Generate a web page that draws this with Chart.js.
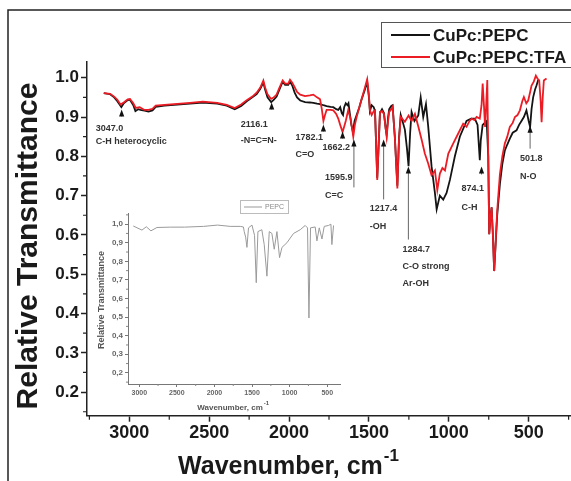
<!DOCTYPE html>
<html>
<head>
<meta charset="utf-8">
<script src="https://cdn.jsdelivr.net/npm/chart.js"></script>
<style>
  html, body { margin: 0; padding: 0; background: #fff; overflow: hidden; }
  #wrap { position: relative; width: 571px; height: 481px; }
  #mainChart { position: absolute; left: 0; top: 0; }
  #insetChart { position: absolute; left: 88px; top: 195px; }
</style>
</head>
<body>
<div id="wrap">
  <canvas id="mainChart" width="571" height="481"></canvas>
  <canvas id="insetChart" width="262" height="222"></canvas>
</div>
<script>
// 刻度
const xTicks = [3000, 2500, 2000, 1500, 1000, 500];
const yTicks = [0.2, 0.3, 0.4, 0.5, 0.6, 0.7, 0.8, 0.9, 1.0];

// 数据: CuPc:PEPC (黑)
const blackWave = [
  3160, 3120, 3095, 3075, 3050, 3035, 3010, 2996, 2975, 2962,
  2945, 2930, 2905, 2880, 2855, 2835, 2780, 2720, 2620, 2540,
  2450, 2390, 2340, 2300, 2265, 2230, 2203, 2180, 2161, 2150,
  2135, 2112, 2095, 2078, 2060, 2040, 2025, 2005, 1994, 1980,
  1965, 1950, 1930, 1900, 1870, 1848, 1825, 1806, 1785, 1765,
  1740, 1723, 1705, 1692, 1680, 1670, 1662, 1655, 1645, 1635,
  1628, 1620, 1610, 1600, 1590, 1577, 1560, 1546, 1525, 1511,
  1500, 1494, 1483, 1470, 1462, 1455, 1448, 1440, 1431, 1418,
  1406, 1395, 1389, 1380, 1373, 1360, 1352, 1338, 1322, 1312,
  1301, 1290, 1275, 1262, 1252, 1242, 1233, 1215, 1191, 1176,
  1160, 1143, 1129, 1108, 1087, 1076, 1056, 1035, 1014, 993,
  962, 931, 889, 860, 837, 820, 806, 800, 788, 763,
  753, 747, 740, 732, 724, 716, 707, 697, 680, 665,
  649, 634, 618, 600, 576, 560, 545, 530, 514, 500,
  491, 482, 472, 460, 451, 440
];
const blackT = [
  0.961, 0.958, 0.950, 0.940, 0.925, 0.935, 0.943, 0.944, 0.930, 0.915,
  0.920, 0.918, 0.916, 0.914, 0.917, 0.926, 0.929, 0.931, 0.934, 0.937,
  0.934, 0.929, 0.920, 0.928, 0.940, 0.950, 0.958, 0.972, 0.988, 0.970,
  0.950, 0.938, 0.944, 0.952, 0.970, 0.990, 0.982, 0.982, 0.990, 0.980,
  0.962, 0.950, 0.942, 0.938, 0.937, 0.936, 0.934, 0.933, 0.930, 0.928,
  0.926, 0.925, 0.920, 0.918, 0.925, 0.910, 0.905, 0.925, 0.935, 0.930,
  0.935, 0.910, 0.880, 0.862, 0.890, 0.905, 0.925, 0.945, 0.970, 0.990,
  0.950, 0.915, 0.930, 0.925, 0.915, 0.830, 0.745, 0.820, 0.910, 0.920,
  0.910, 0.870, 0.855, 0.900, 0.920, 0.928, 0.930, 0.850, 0.725, 0.845,
  0.905, 0.890, 0.868, 0.820, 0.775, 0.860, 0.913, 0.890, 0.904, 0.950,
  0.900, 0.933, 0.876, 0.775, 0.707, 0.665, 0.700, 0.690, 0.707, 0.740,
  0.800, 0.850, 0.890, 0.896, 0.896, 0.880, 0.790, 0.840, 0.880, 0.890,
  0.800, 0.602, 0.640, 0.670, 0.600, 0.508, 0.575, 0.650, 0.730, 0.780,
  0.815, 0.830, 0.845, 0.860, 0.866, 0.880, 0.890, 0.900, 0.917, 0.890,
  0.875, 0.920, 0.950, 0.970, 0.980, 0.995
];

// 数据: CuPc:PEPC:TFA (红)
const redWave = [
  3160, 3120, 3095, 3075, 3055, 3035, 3010, 2996, 2975, 2960,
  2935, 2905, 2880, 2855, 2835, 2780, 2720, 2620, 2540, 2450,
  2390, 2340, 2300, 2265, 2230, 2203, 2180, 2161, 2150, 2135,
  2112, 2095, 2078, 2060, 2040, 2025, 2005, 1994, 1980, 1965,
  1950, 1930, 1900, 1870, 1848, 1825, 1806, 1795, 1785, 1775,
  1765, 1740, 1723, 1705, 1692, 1680, 1665, 1652, 1644, 1630,
  1615, 1605, 1598, 1588, 1577, 1560, 1546, 1525, 1511, 1500,
  1494, 1483, 1470, 1462, 1455, 1448, 1440, 1431, 1418, 1406,
  1395, 1389, 1380, 1373, 1360, 1352, 1338, 1322, 1312, 1301,
  1290, 1275, 1252, 1233, 1212, 1191, 1170, 1150, 1129, 1108,
  1087, 1072, 1056, 1040, 1024, 1003, 972, 941, 910, 889,
  870, 857, 840, 826, 806, 795, 788, 780, 773, 766,
  759, 753, 747, 740, 732, 724, 716, 707, 697, 680,
  665, 649, 634, 618, 600, 586, 570, 555, 540, 530,
  515, 503, 490, 482, 468, 455, 445, 434, 425, 419,
  412, 405, 395, 388
];
const redT = [
  0.961, 0.959, 0.952, 0.944, 0.932, 0.937, 0.945, 0.946, 0.935, 0.923,
  0.925, 0.918, 0.918, 0.921, 0.929, 0.931, 0.933, 0.936, 0.939, 0.936,
  0.931, 0.923, 0.932, 0.943, 0.952, 0.962, 0.975, 0.993, 0.975, 0.958,
  0.946, 0.950, 0.957, 0.975, 0.993, 0.985, 0.985, 0.995, 0.987, 0.976,
  0.964, 0.957, 0.953, 0.955, 0.957, 0.950, 0.945, 0.920, 0.890, 0.905,
  0.918, 0.918, 0.917, 0.908, 0.896, 0.880, 0.862, 0.880, 0.892, 0.917,
  0.896, 0.870, 0.850, 0.880, 0.900, 0.925, 0.945, 0.975, 0.996, 0.955,
  0.917, 0.905, 0.915, 0.917, 0.830, 0.740, 0.820, 0.913, 0.915, 0.908,
  0.870, 0.850, 0.890, 0.913, 0.920, 0.926, 0.850, 0.718, 0.840, 0.900,
  0.895, 0.888, 0.904, 0.890, 0.908, 0.876, 0.842, 0.807, 0.782, 0.752,
  0.764, 0.714, 0.756, 0.770, 0.764, 0.807, 0.833, 0.858, 0.883, 0.875,
  0.890, 0.896, 0.892, 0.900, 0.896, 0.930, 0.985, 0.930, 0.875, 0.930,
  0.994, 0.800, 0.602, 0.640, 0.670, 0.600, 0.508, 0.580, 0.662, 0.755,
  0.800, 0.833, 0.850, 0.875, 0.885, 0.900, 0.905, 0.917, 0.940, 0.951,
  0.935, 0.942, 0.965, 0.980, 0.990, 1.005, 0.998, 0.993, 0.940, 0.887,
  0.950, 0.993, 0.996, 0.998
];

// 插图: PEPC
const pepcWave = [
  3080, 2964, 2907, 2845, 2765, 2588, 2400, 2145, 1959, 1790,
  1657, 1615, 1604, 1585, 1568, 1547, 1501, 1467, 1444, 1422,
  1370, 1338, 1302, 1271, 1236, 1205, 1169, 1134, 1102, 1036,
  948, 859, 793, 762, 743, 722, 660, 637, 606, 570,
  540, 483, 451, 438, 416
];
const pepcT = [
  0.990, 0.968, 0.986, 0.964, 0.982, 0.984, 0.984, 0.988, 0.995, 0.988,
  0.988, 0.985, 0.960, 0.930, 0.875, 0.980, 0.995, 0.940, 0.685, 0.960,
  0.970, 0.890, 0.720, 0.960, 0.950, 0.865, 0.960, 0.820, 0.875, 0.900,
  0.950, 0.970, 0.993, 0.980, 0.495, 0.980, 0.985, 0.910, 0.980, 0.920,
  0.988, 0.993, 1.000, 0.890, 0.993
];

// 峰标注
const annWave = [3048, 2109, 1785, 1665, 1594, 1408, 1253, 795, 491];
const annTip = [0.919, 0.937, 0.881, 0.863, 0.843, 0.843, 0.774, 0.774, 0.878];
const annText = [
  ['3047.0', 'C-H heterocyclic'],
  ['2116.1', '-N=C=N-'],
  ['1782.1', 'C=O'],
  ['1662.2'],
  ['1595.9', 'C=C'],
  ['1217.4', '-OH'],
  ['1284.7', 'C-O strong', 'Ar-OH'],
  ['874.1', 'C-H'],
  ['501.8', 'N-O']
];
// 标注文字相对箭头尖的偏移(像素)
const annLayout = [
  { dx: -26, dy: 21, gap: 13, stem: 7 },
  { dx: -31, dy: 25, gap: 16, stem: 7 },
  { dx: -28, dy: 16, gap: 17, stem: 7 },
  { dx: -20, dy: 18, gap: 17, stem: 7 },
  { dx: -29, dy: 41, gap: 18, stem: 48 },
  { dx: -14, dy: 72, gap: 18, stem: 60 },
  { dx: -6, dy: 85, gap: 17, stem: 73 },
  { dx: -20, dy: 24, gap: 19, stem: 8 },
  { dx: -10, dy: 35, gap: 18, stem: 23 }
];

const toPts = (xs, ys) => xs.map((x, i) => ({ x: x, y: ys[i] }));
const FONT = '"Liberation Sans", Arial, sans-serif';

// 次刻度
const minorTicks = {
  id: 'minorTicks',
  afterDraw(chart, args, opts) {
    const ctx = chart.ctx;
    const xs = chart.scales.x, ys = chart.scales.y;
    ctx.save();
    ctx.strokeStyle = opts.color;
    ctx.lineWidth = opts.width;
    ctx.beginPath();
    for (let v = Math.ceil(xs.min / opts.xStep) * opts.xStep; v <= xs.max; v += opts.xStep) {
      if (Math.abs(v / opts.xMajor - Math.round(v / opts.xMajor)) < 1e-6) continue;
      const px = xs.getPixelForValue(v);
      ctx.moveTo(px, xs.top);
      ctx.lineTo(px, xs.top + opts.len);
    }
    for (let v = Math.ceil(ys.min / opts.yStep - 1e-6) * opts.yStep; v <= ys.max + 1e-9; v += opts.yStep) {
      if (Math.abs(v / opts.yMajor - Math.round(v / opts.yMajor)) < 1e-6) continue;
      const py = ys.getPixelForValue(v);
      ctx.moveTo(ys.right, py);
      ctx.lineTo(ys.right - opts.len, py);
    }
    ctx.stroke();
    ctx.restore();
  }
};

// 主图装饰: 外框, 轴标题, 图例, 峰标注
const mainDecor = {
  id: 'mainDecor',
  afterDraw(chart) {
    const ctx = chart.ctx;
    const xs = chart.scales.x, ys = chart.scales.y;
    ctx.save();
    ctx.strokeStyle = '#222';
    ctx.lineWidth = 1.5;
    ctx.beginPath();
    ctx.moveTo(8, 481);
    ctx.lineTo(8, 10);
    ctx.lineTo(571, 10);
    ctx.stroke();

    ctx.fillStyle = '#1a1a1a';
    ctx.font = 'bold 30px ' + FONT;
    ctx.textAlign = 'center';
    ctx.textBaseline = 'middle';
    ctx.translate(29, 246);
    ctx.rotate(-Math.PI / 2);
    ctx.fillText('Relative Transmittance', 0, 0);
    ctx.setTransform(1, 0, 0, 1, 0, 0);

    ctx.textBaseline = 'alphabetic';
    ctx.textAlign = 'left';
    const main = 'Wavenumber, cm';
    ctx.font = 'bold 25px ' + FONT;
    const w1 = ctx.measureText(main).width;
    ctx.font = 'bold 17px ' + FONT;
    const w2 = ctx.measureText('-1').width;
    const x0 = 288 - (w1 + w2) / 2;
    ctx.font = 'bold 25px ' + FONT;
    ctx.fillText(main, x0, 474);
    ctx.font = 'bold 17px ' + FONT;
    ctx.fillText('-1', x0 + w1 + 1, 461);

    // 图例
    ctx.strokeStyle = '#555';
    ctx.lineWidth = 1;
    ctx.strokeRect(381.5, 22.5, 220, 45);
    ctx.font = 'bold 17px ' + FONT;
    ctx.textBaseline = 'middle';
    chart.data.datasets.forEach((ds, i) => {
      const y = 35 + i * 22;
      ctx.strokeStyle = ds.borderColor;
      ctx.lineWidth = 2;
      ctx.beginPath();
      ctx.moveTo(391, y);
      ctx.lineTo(430, y);
      ctx.stroke();
      ctx.fillStyle = '#1a1a1a';
      ctx.fillText(ds.label, 433, y + 1);
    });

    // 峰标注
    ctx.font = 'bold 9px ' + FONT;
    ctx.textBaseline = 'alphabetic';
    annWave.forEach((wv, i) => {
      const tx = xs.getPixelForValue(wv);
      const ty = ys.getPixelForValue(annTip[i]);
      const L = annLayout[i];
      ctx.strokeStyle = '#666';
      ctx.lineWidth = 1;
      ctx.beginPath();
      ctx.moveTo(tx, ty + 5);
      ctx.lineTo(tx, ty + L.stem);
      ctx.stroke();
      ctx.fillStyle = '#111';
      ctx.beginPath();
      ctx.moveTo(tx, ty);
      ctx.lineTo(tx - 2.6, ty + 7);
      ctx.lineTo(tx + 2.6, ty + 7);
      ctx.closePath();
      ctx.fill();
      ctx.fillStyle = '#333';
      annText[i].forEach((s, k) => {
        ctx.fillText(s, tx + L.dx, ty + L.dy + k * L.gap);
      });
    });
    ctx.restore();
  }
};

// 插图装饰
const insetDecor = {
  id: 'insetDecor',
  afterDraw(chart) {
    const ctx = chart.ctx;
    ctx.save();
    ctx.fillStyle = '#555';
    ctx.font = 'bold 9px ' + FONT;
    ctx.textAlign = 'center';
    ctx.textBaseline = 'middle';
    ctx.translate(14, 105);
    ctx.rotate(-Math.PI / 2);
    ctx.fillText('Relative Transmittance', 0, 0);
    ctx.setTransform(1, 0, 0, 1, 0, 0);

    ctx.textAlign = 'left';
    ctx.textBaseline = 'alphabetic';
    ctx.font = 'bold 8px ' + FONT;
    const w1 = ctx.measureText('Wavenumber, cm').width;
    const x0 = 145 - (w1 + 6) / 2;
    ctx.fillText('Wavenumber, cm', x0, 215);
    ctx.font = 'bold 6px ' + FONT;
    ctx.fillText('-1', x0 + w1 + 1, 210);

    // 图例
    ctx.strokeStyle = '#bbb';
    ctx.lineWidth = 1;
    ctx.strokeRect(152.5, 5.5, 48, 13);
    ctx.strokeStyle = '#999';
    ctx.beginPath();
    ctx.moveTo(156, 12);
    ctx.lineTo(174, 12);
    ctx.stroke();
    ctx.fillStyle = '#888';
    ctx.font = '7px ' + FONT;
    ctx.textBaseline = 'middle';
    ctx.fillText('PEPC', 177, 12.5);
    ctx.restore();
  }
};

const mainCtx = document.getElementById('mainChart').getContext('2d');
new Chart(mainCtx, {
  type: 'line',
  data: {
    datasets: [{
      label: 'CuPc:PEPC',
      data: toPts(blackWave, blackT),
      borderColor: '#141414',
      borderWidth: 1.8,
      pointRadius: 0,
      tension: 0,
      order: 1
    }, {
      label: 'CuPc:PEPC:TFA',
      data: toPts(redWave, redT),
      borderColor: '#ec1c24',
      borderWidth: 1.8,
      pointRadius: 0,
      tension: 0,
      order: 0
    }]
  },
  options: {
    responsive: false,
    animation: false,
    layout: { padding: { top: 62, right: 0, bottom: 0, left: 0 } },
    scales: {
      x: {
        type: 'linear',
        reverse: true,
        min: 235,
        max: 3265,
        afterFit: s => { s.height = 65.3; },
        afterBuildTicks: s => { s.ticks = xTicks.map(v => ({ value: v })); },
        border: { display: true, color: '#222', width: 1.5 },
        grid: { drawOnChartArea: false, drawTicks: true, tickLength: 6, tickColor: '#222', tickWidth: 1.5 },
        ticks: {
          autoSkip: false,
          maxRotation: 0,
          padding: 1,
          color: '#1a1a1a',
          font: { family: FONT, size: 18, weight: 'bold' },
          callback: v => String(v)
        }
      },
      y: {
        type: 'linear',
        min: 0.14,
        max: 1.04,
        afterFit: s => { s.width = 87; },
        afterBuildTicks: s => { s.ticks = yTicks.map(v => ({ value: v })); },
        border: { display: true, color: '#222', width: 1.5 },
        grid: { drawOnChartArea: false, drawTicks: true, tickLength: 6, tickColor: '#222', tickWidth: 1.5 },
        ticks: {
          padding: 2,
          color: '#1a1a1a',
          font: { family: FONT, size: 17, weight: 'bold' },
          callback: v => v.toFixed(1)
        }
      }
    },
    plugins: {
      legend: { display: false },
      tooltip: { enabled: false },
      minorTicks: { xStep: 250, xMajor: 500, yStep: 0.05, yMajor: 0.1, len: 4, color: '#222', width: 1.2 }
    }
  },
  plugins: [minorTicks, mainDecor]
});

const insetCtx = document.getElementById('insetChart').getContext('2d');
new Chart(insetCtx, {
  type: 'line',
  data: {
    datasets: [{
      label: 'PEPC',
      data: toPts(pepcWave, pepcT),
      borderColor: '#9a9a9a',
      borderWidth: 1,
      pointRadius: 0,
      tension: 0
    }]
  },
  options: {
    responsive: false,
    animation: false,
    layout: { padding: { top: 18, right: 10, bottom: 0, left: 0 } },
    scales: {
      x: {
        type: 'linear',
        reverse: true,
        min: 330,
        max: 3150,
        afterFit: s => { s.height = 33; },
        afterBuildTicks: s => { s.ticks = xTicks.map(v => ({ value: v })); },
        border: { display: true, color: '#777', width: 1 },
        grid: { drawOnChartArea: false, tickLength: 3, tickColor: '#777' },
        ticks: {
          autoSkip: false,
          maxRotation: 0,
          padding: 2,
          color: '#666',
          font: { family: FONT, size: 7, weight: 'bold' },
          callback: v => String(v)
        }
      },
      y: {
        type: 'linear',
        min: 0.14,
        max: 1.06,
        afterFit: s => { s.width = 40; },
        afterBuildTicks: s => { s.ticks = yTicks.map(v => ({ value: v })); },
        border: { display: true, color: '#777', width: 1 },
        grid: { drawOnChartArea: false, tickLength: 3, tickColor: '#777' },
        ticks: {
          padding: 2,
          color: '#666',
          font: { family: FONT, size: 8, weight: 'bold' },
          callback: v => v.toFixed(1).replace('.', ',')
        }
      }
    },
    plugins: {
      legend: { display: false },
      tooltip: { enabled: false },
      minorTicks: { xStep: 250, xMajor: 500, yStep: 0.05, yMajor: 0.1, len: 2, color: '#888', width: 1 }
    }
  },
  plugins: [minorTicks, insetDecor]
});
</script>
</body>
</html>
